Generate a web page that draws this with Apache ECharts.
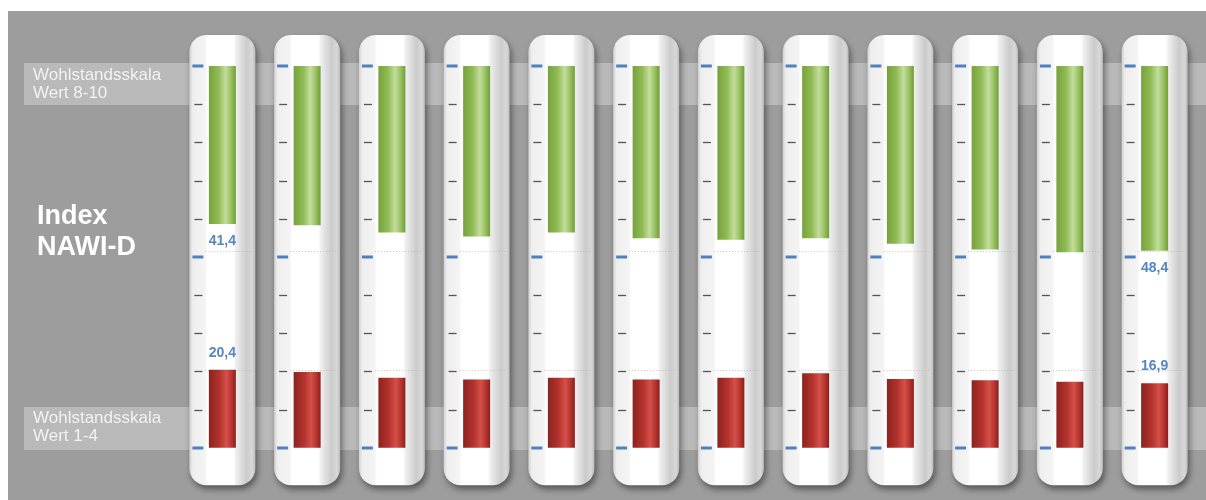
<!DOCTYPE html>
<html><head><meta charset="utf-8">
<script src="https://cdn.jsdelivr.net/npm/echarts@6/dist/echarts.min.js"></script>
<style>html,body{margin:0;padding:0;background:#fff}#c{width:1206px;height:500px}</style>
</head><body><div id="c"></div>
<script>
const categories = ['1','2','3','4','5','6','7','8','9','10','11','12'];
const highShare = [41.4, 41.7, 43.6, 44.7, 43.6, 45.1, 45.5, 45.1, 46.6, 48.1, 48.8, 48.4];
const lowShare  = [20.4, 19.8, 18.3, 17.9, 18.3, 17.9, 18.3, 19.5, 18.0, 17.7, 17.3, 16.9];
const tickValues = [0, 10, 20, 30, 40, 50, 60, 70, 80, 90, 100];
const majorTicks = [0, 50, 100];
const refLevels = [51.6, 20.4];
const labelledIndices = [0, 11];
const highTitle = 'Wohlstandsskala\nWert 8-10';
const lowTitle = 'Wohlstandsskala\nWert 1-4';
const indexTitle = 'Index\nNAWI-D';

const chart = echarts.init(document.getElementById('c'), null, {renderer: 'canvas'});
const fmt = v => v.toFixed(1).replace('.', ',');
const labelFormatter = p => labelledIndices.includes(p.dataIndex) ? fmt(p.value) : '';

function capsuleRender(params, api) {
  const i = api.value(0);
  const top = api.coord([i, 100]);
  const bot = api.coord([i, 0]);
  const c = top[0];
  const w = 66;
  const y1 = top[1] - 31, y2 = bot[1] + 37.5;
  const children = [];
  children.push({
    type: 'rect',
    shape: {x: c - w / 2, y: y1, width: w, height: y2 - y1, r: 17},
    style: {
      fill: {type: 'linear', x: 0, y: 0, x2: 1, y2: 0, colorStops: [
        {offset: 0, color: '#cfcfcf'}, {offset: 0.05, color: '#eeeeee'},
        {offset: 0.24, color: '#f4f4f4'}, {offset: 0.27, color: '#ffffff'},
        {offset: 0.67, color: '#ffffff'}, {offset: 0.71, color: '#eeeeee'},
        {offset: 0.87, color: '#cbcbcb'}, {offset: 0.95, color: '#d8d8d8'},
        {offset: 1, color: '#bdbdbd'}]},
      shadowBlur: 6, shadowColor: 'rgba(0,0,0,0.45)', shadowOffsetX: 2, shadowOffsetY: 4
    }
  });
  refLevels.forEach(v => {
    const p = api.coord([i, v]);
    children.push({
      type: 'line',
      shape: {x1: c - 17, y1: Math.round(p[1]) + 0.5, x2: c + 31, y2: Math.round(p[1]) + 0.5},
      style: {stroke: 'rgba(200,170,145,0.75)', lineWidth: 1, lineDash: [1, 2]}
    });
  });
  tickValues.forEach(v => {
    const p = api.coord([i, v]);
    const major = majorTicks.includes(v);
    const y = Math.round(p[1]) + (major ? 0 : 0.5);
    children.push({
      type: 'line',
      shape: major ? {x1: c - 30, y1: y, x2: c - 19, y2: y} : {x1: c - 28, y1: y, x2: c - 20, y2: y},
      style: {stroke: major ? '#5080c0' : '#555555', lineWidth: major ? 3 : 1.3}
    });
  });
  return {type: 'group', children};
}

const option = {
  animation: false,
  grid: {left: 180, right: 9, top: 66, bottom: 52.3},
  xAxis: {type: 'category', data: categories, show: false, boundaryGap: true},
  yAxis: [
    {type: 'value', min: 0, max: 100, show: false},
    {type: 'value', min: 0, max: 100, show: false, inverse: true}
  ],
  graphic: [
    {type: 'rect', z: 0, shape: {x: 8, y: 11, width: 1198, height: 489}, style: {fill: '#9d9d9d'}},
    {type: 'rect', z: 0, shape: {x: 24, y: 63, width: 1182, height: 42}, style: {fill: '#b9b9b9'}},
    {type: 'rect', z: 0, shape: {x: 24, y: 407, width: 1182, height: 43}, style: {fill: '#b9b9b9'}},
    {type: 'text', z: 1, x: 33, y: 66, style: {text: highTitle, fill: '#f2f2f2', font: '17px "Liberation Sans"', lineHeight: 18}},
    {type: 'text', z: 1, x: 33, y: 409, style: {text: lowTitle, fill: '#f2f2f2', font: '17px "Liberation Sans"', lineHeight: 18}},
    {type: 'text', z: 1, x: 37, y: 201, style: {text: indexTitle, fill: '#ffffff', font: 'bold 27px "Liberation Sans"', lineHeight: 31}}
  ],
  series: [
    {
      type: 'custom', name: 'capsule', z: 1, silent: true,
      data: categories.map((c, i) => [i]),
      encode: {x: 0},
      renderItem: capsuleRender
    },
    {
      type: 'bar', name: 'Wert 8-10', yAxisIndex: 1, z: 3,
      data: highShare, barWidth: 27, barGap: '-100%',
      itemStyle: {color: {type: 'linear', x: 0, y: 0, x2: 1, y2: 0, colorStops: [
        {offset: 0, color: '#78a23c'}, {offset: 0.35, color: '#8fba54'},
        {offset: 0.62, color: '#c3dd9d'}, {offset: 0.82, color: '#98c262'},
        {offset: 1, color: '#729c37'}]}},
      label: {show: true, position: 'bottom', distance: 10, formatter: labelFormatter,
        color: '#5585c4', fontFamily: 'Liberation Sans', fontWeight: 'bold', fontSize: 14}
    },
    {
      type: 'bar', name: 'Wert 1-4', yAxisIndex: 0, z: 3,
      data: lowShare, barWidth: 27, barGap: '-100%',
      itemStyle: {color: {type: 'linear', x: 0, y: 0, x2: 1, y2: 0, colorStops: [
        {offset: 0, color: '#8c231f'}, {offset: 0.4, color: '#b5332e'},
        {offset: 0.65, color: '#d4504a'}, {offset: 0.85, color: '#b5332e'},
        {offset: 1, color: '#86211d'}]}},
      label: {show: true, position: 'top', distance: 10, formatter: labelFormatter,
        color: '#5585c4', fontFamily: 'Liberation Sans', fontWeight: 'bold', fontSize: 14}
    }
  ]
};
chart.setOption(option);
</script></body></html>
